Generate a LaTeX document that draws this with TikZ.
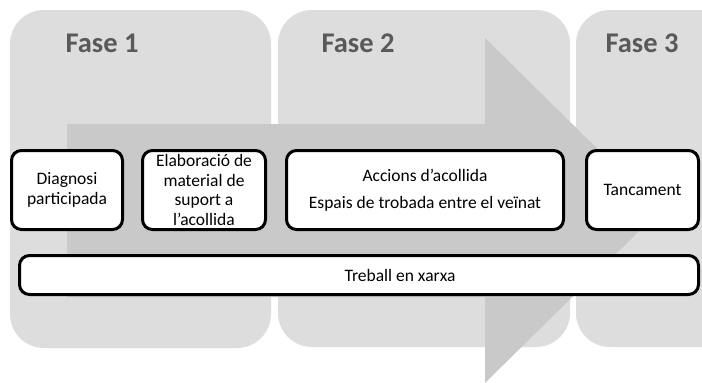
\documentclass[tikz,border=0pt]{standalone}
\usepackage{fontspec}
\setmainfont{Carlito}
\definecolor{panelgrey}{HTML}{DDDDDD}
\definecolor{arrowgrey}{HTML}{C9C9C9}
\definecolor{fasegrey}{HTML}{595959}
\tikzset{
  panel/.style={fill=panelgrey, rounded corners=34pt},
  bigarrow/.style={fill=arrowgrey},
  fase/.style={text=fasegrey, font=\bfseries\fontsize{28.5}{33}\selectfont, inner sep=0pt},
  stepbox/.style={draw=black, fill=white, line width=3pt, rounded corners=10pt,
    align=center, inner xsep=2pt, inner ysep=0pt, font=\fontsize{17.5}{19.8}\selectfont}
}
\begin{document}
\begin{tikzpicture}[x=1pt,y=-1pt]
\clip (0,0) rectangle (702,383);
\fill[white] (0,0) rectangle (702,383);
% phase panels
\fill[panel] (10,10) rectangle (271,348);
\fill[panel] (278,10) rectangle (570,347);
\fill[panel] (576,10) rectangle (740,347);
% big arrow
\fill[bigarrow] (67,124) -- (485,124) -- (485,38) -- (660,210.5) -- (485,383) -- (485,297) -- (67,297) -- cycle;
% phase titles
\node[fase] (f1) at (102,43) {Fase 1};
\node[fase] (f2) at (358,43) {Fase 2};
\node[fase] (f3) at (642,43) {Fase 3};
% boxes
\node[stepbox, minimum width=111, minimum height=79] (b1) at (67,190) {Diagnosi\\participada};
\node[stepbox, minimum width=123, minimum height=79] (b2) at (204,190) {Elaboració de\\material de\\suport a\\l’acollida};
\node[stepbox, minimum width=277, minimum height=79] (b3) at (425,190) {Accions d’acollida\\[7pt]Espais de trobada entre el veïnat};
\node[stepbox, minimum width=112, minimum height=79] (b4) at (642.5,190) {Tancament};
\node[stepbox, minimum width=679, minimum height=39] (b5) at (359,275) {};
\node[font=\fontsize{17.5}{19.8}\selectfont, inner sep=0pt] (t5) at (400,275) {Treball en xarxa};
\end{tikzpicture}
\end{document}
